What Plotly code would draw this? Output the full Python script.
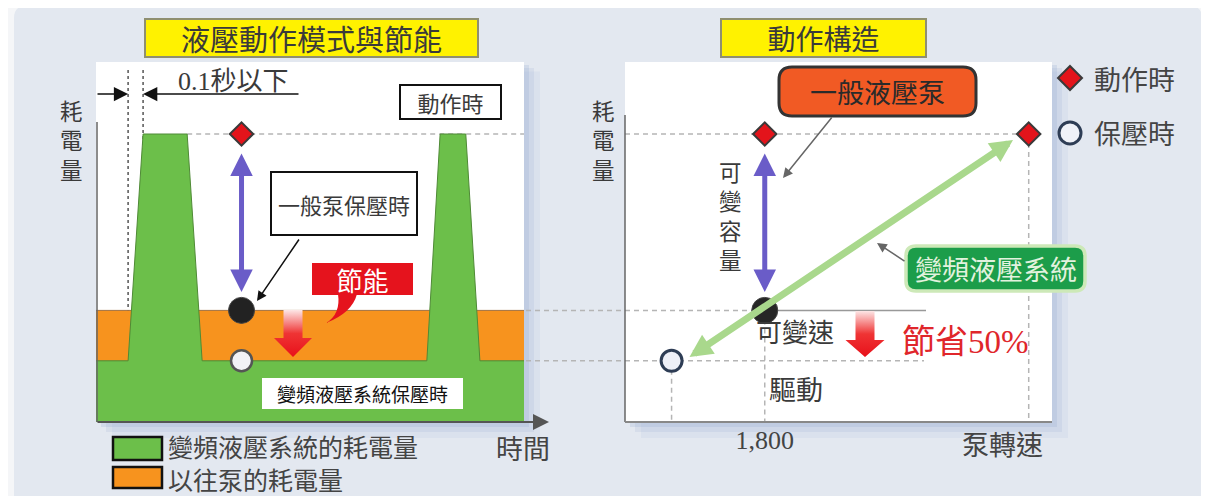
import plotly.graph_objects as go

# the page body has an 8px margin, so the figure is drawn 8px in from the window corner
OFF = 8
W, H = 1209 - OFF, 496 - OFF

# schematic values
time_pts = [0, 7.5, 11, 21.3, 24.8, 77.3, 80.4, 86.4, 89.7, 100]
inverter_power = [17, 17, 80, 80, 17, 17, 80, 80, 17, 17]
conv_time = [0, 100]
conv_power = [31, 31]

peak_power = 80      # 動作時
conv_hold = 31       # 一般泵保壓時
inv_hold = 17        # 變頻液壓系統保壓時
marker_time = 34

speed_action = [1800, 5200]
power_action = [80, 80]
speed_conv_hold = [1800]
speed_inv_hold = [600]
speed_ticks = [1800]
speed_ticktext = ["1,800"]

CJK = "Noto Sans CJK TC, Noto Sans CJK JP, sans-serif"
SERIF = "Liberation Serif"
GREEN = "#6cbf4a"
ORANGE = "#f7931e"
RED = "#e3141b"
PURPLE = "#6a5cc8"
LGREEN = "#a9d88c"
TXT = "#3a3a3a"


def X(px):
    return (px - OFF) / W


def Y(py):
    return 1 - (py - OFF) / H


# pixel -> data helpers for the decorations
def lt(px):
    return (px - 96) / 4.28


def lp(py):
    return (422 - py) / 3.6


def rs(px):
    return (px - 625) / 427 * 5500


fig = go.Figure()

# ---- left panel ----
fig.add_trace(go.Scatter(x=conv_time, y=conv_power, fill="tozeroy", fillcolor=ORANGE,
                         mode="lines", line=dict(color="#a07040", width=1),
                         xaxis="x", yaxis="y"))
fig.add_trace(go.Scatter(x=time_pts, y=inverter_power, fill="tozeroy", fillcolor=GREEN,
                         mode="lines", line=dict(color="#4f8a36", width=1),
                         xaxis="x", yaxis="y"))

grad = dict(type="vertical", colorscale=[[0, "#e8101a"], [0.5, "#ef3434"], [1, "#fde6e6"]])
cx, hs, hh = lt(293), 9.5 / 4.28, 19 / 4.28
fig.add_trace(go.Scatter(
    x=[cx - hs, cx + hs, cx + hs, cx + hh, cx, cx - hh, cx - hs, cx - hs],
    y=[lp(310), lp(310), lp(338), lp(338), lp(357), lp(338), lp(338), lp(310)],
    fill="toself", mode="lines", line=dict(width=0), fillgradient=grad,
    xaxis="x", yaxis="y"))

fig.add_trace(go.Scatter(x=[marker_time], y=[peak_power], mode="markers",
                         marker=dict(symbol="diamond", size=18, color=RED,
                                     line=dict(color="#3a3a3a", width=2)),
                         xaxis="x", yaxis="y"))
fig.add_trace(go.Scatter(x=[marker_time], y=[conv_hold], mode="markers",
                         marker=dict(size=26, color="#222222", line=dict(color="#444", width=1)),
                         xaxis="x", yaxis="y"))
fig.add_trace(go.Scatter(x=[marker_time], y=[inv_hold], mode="markers",
                         marker=dict(size=21, color="#f2f2f6", line=dict(color="#555", width=2.5)),
                         xaxis="x", yaxis="y"))

# ---- right panel ----
cx, hs, hh = rs(865), rs(625 + 9.5), rs(625 + 19.5)
fig.add_trace(go.Scatter(
    x=[cx - hs, cx + hs, cx + hs, cx + hh, cx, cx - hh, cx - hs, cx - hs],
    y=[lp(311), lp(311), lp(340), lp(340), lp(357), lp(340), lp(340), lp(311)],
    fill="toself", mode="lines", line=dict(width=0), fillgradient=grad,
    xaxis="x2", yaxis="y2"))
fig.add_trace(go.Scatter(x=speed_action, y=power_action, mode="markers",
                         marker=dict(symbol="diamond", size=18, color=RED,
                                     line=dict(color="#3a3a3a", width=2)),
                         xaxis="x2", yaxis="y2"))
fig.add_trace(go.Scatter(x=speed_conv_hold, y=[conv_hold], mode="markers",
                         marker=dict(size=26, color="#262626", line=dict(color="#444", width=1)),
                         xaxis="x2", yaxis="y2"))
fig.add_trace(go.Scatter(x=speed_inv_hold, y=[inv_hold], mode="markers",
                         marker=dict(size=21, color="#eef0f8", line=dict(color="#2e3d55", width=3)),
                         xaxis="x2", yaxis="y2"))


def rrect(x0, y0, x1, y1, r):
    return (f"M {X(x0 + r)},{Y(y0)} L {X(x1 - r)},{Y(y0)} Q {X(x1)},{Y(y0)} {X(x1)},{Y(y0 + r)} "
            f"L {X(x1)},{Y(y1 - r)} Q {X(x1)},{Y(y1)} {X(x1 - r)},{Y(y1)} "
            f"L {X(x0 + r)},{Y(y1)} Q {X(x0)},{Y(y1)} {X(x0)},{Y(y1 - r)} "
            f"L {X(x0)},{Y(y0 + r)} Q {X(x0)},{Y(y0)} {X(x0 + r)},{Y(y0)} Z")


shapes = []
# panel background
shapes.append(dict(type="path", path=rrect(14, 6, 1202, 510, 12), xref="paper", yref="paper",
                   fillcolor="#e3e8f0", line=dict(width=0), layer="below"))
# shadows and white plot areas
for (x0, y0, x1, y1) in [(96, 62, 524, 422), (625, 62, 1052, 422)]:
    for off, a in [(16, 0.08), (10, 0.12), (5, 0.16)]:
        shapes.append(dict(type="rect", xref="paper", yref="paper",
                           x0=X(x0 + off), x1=X(x1 + off), y0=Y(y0 + off * 0.6), y1=Y(y1 + off),
                           fillcolor=f"rgba(120,150,200,{a})", line=dict(width=0), layer="below"))
    shapes.append(dict(type="rect", xref="paper", yref="paper", x0=X(x0), x1=X(x1),
                       y0=Y(y1), y1=Y(y0), fillcolor="white", line=dict(width=0), layer="below"))

dash = dict(color="#b5b5b5", width=1.5, dash="5px,4px")
dot = dict(color="#555555", width=1.5, dash="3px,3px")
# left panel guide lines
for t in [time_pts[1], time_pts[2]]:
    shapes.append(dict(type="line", xref="x", yref="y", x0=t, x1=t, y0=lp(70), y1=0,
                       line=dot, layer="below"))
shapes.append(dict(type="line", xref="x", yref="y", x0=time_pts[3], x1=100,
                   y0=peak_power, y1=peak_power, line=dash, layer="below"))
# bridges between the panels
for lev in [conv_hold, inv_hold]:
    shapes.append(dict(type="line", xref="paper", yref="y", x0=X(526), x1=X(625),
                       y0=lev, y1=lev, line=dash))
# right panel guide lines
shapes.append(dict(type="line", xref="x2", yref="y2", x0=0, x1=speed_action[1],
                   y0=peak_power, y1=peak_power, line=dash, layer="below"))
shapes.append(dict(type="line", xref="x2", yref="y2", x0=speed_action[1], x1=speed_action[1],
                   y0=peak_power, y1=0, line=dash, layer="below"))
shapes.append(dict(type="line", xref="x2", yref="y2", x0=0, x1=speed_conv_hold[0],
                   y0=conv_hold, y1=conv_hold, line=dash, layer="below"))
shapes.append(dict(type="line", xref="x2", yref="y2", x0=speed_conv_hold[0], x1=rs(926),
                   y0=conv_hold, y1=conv_hold, line=dict(color="#999", width=1.5), layer="below"))
shapes.append(dict(type="line", xref="x2", yref="y2", x0=0, x1=rs(924),
                   y0=inv_hold, y1=inv_hold, line=dash, layer="below"))
shapes.append(dict(type="line", xref="x2", yref="y2", x0=speed_conv_hold[0], x1=speed_conv_hold[0],
                   y0=conv_hold, y1=0, line=dash, layer="below"))
shapes.append(dict(type="line", xref="x2", yref="y2", x0=speed_inv_hold[0], x1=speed_inv_hold[0],
                   y0=inv_hold, y1=0, line=dash, layer="below"))

# axis lines
shapes.append(dict(type="line", xref="paper", yref="paper", x0=X(97), x1=X(97), y0=Y(122), y1=Y(422),
                   line=dict(color="#666", width=1.5)))
shapes.append(dict(type="line", xref="paper", yref="paper", x0=X(625), x1=X(625), y0=Y(115), y1=Y(422),
                   line=dict(color="#666", width=1.5)))
shapes.append(dict(type="line", xref="paper", yref="paper", x0=X(625), x1=X(1052), y0=Y(422), y1=Y(422),
                   line=dict(color="#888", width=2)))

# 節能 bubble tail
tail = (f"M {lt(338)},{lp(294)} Q {lt(341)},{lp(314)} {lt(326)},{lp(323)} "
        f"Q {lt(352)},{lp(313)} {lt(357)},{lp(294)} Z")
shapes.append(dict(type="path", xref="x", yref="y", path=tail, fillcolor="#e5131d",
                   line=dict(width=0)))

# rounded boxes on the right
shapes.append(dict(type="path", xref="paper", yref="paper", path=rrect(779, 67, 976, 116, 13),
                   fillcolor="#f15a24", line=dict(color="#333", width=3)))
shapes.append(dict(type="path", xref="paper", yref="paper", path=rrect(906, 246, 1085, 291, 10),
                   fillcolor="#1c9d4a", line=dict(color="#cde9b8", width=3.5)))

# legend swatches
shapes.append(dict(type="rect", xref="paper", yref="paper", x0=X(113), x1=X(162), y0=Y(460), y1=Y(437),
                   fillcolor=GREEN, line=dict(color="#111", width=2.5)))
shapes.append(dict(type="rect", xref="paper", yref="paper", x0=X(113), x1=X(162), y0=Y(488), y1=Y(467),
                   fillcolor=ORANGE, line=dict(color="#111", width=2.5)))
shapes.append(dict(type="path", xref="paper", yref="paper",
                   path=f"M {X(1070)},{Y(66)} L {X(1082)},{Y(78)} L {X(1070)},{Y(90)} L {X(1058)},{Y(78)} Z",
                   fillcolor=RED, line=dict(color="#3a3a3a", width=2)))
shapes.append(dict(type="circle", xref="paper", yref="paper", x0=X(1059), x1=X(1081), y0=Y(144), y1=Y(122),
                   fillcolor="#f0f2f8", line=dict(color="#2e3d55", width=3)))


def txt(s, x, y, size, color=TXT, family=CJK, xanchor="center", **kw):
    fig.add_annotation(text=s, x=X(x), y=Y(y), xref="paper", yref="paper", showarrow=False,
                       font=dict(size=size, color=color, family=family),
                       xanchor=xanchor, yanchor="middle", **kw)


def box(s, x0, y0, x1, y1, size, bg, border=None, bw=0, color=TXT):
    txt(s, (x0 + x1) / 2, (y0 + y1) / 2, size, color=color, bgcolor=bg,
        bordercolor=border or bg, borderwidth=bw, borderpad=0,
        width=x1 - x0 - bw, height=y1 - y0 - bw)


box("液壓動作模式與節能", 145, 19, 478, 57, 29, "#fff200", "#8f8f70", 2)
box("動作構造", 721, 19, 926, 57, 28, "#fff200", "#8f8f70", 2)
box("動作時", 400, 85, 501, 119, 22, "white", "#111", 2)
box("一般泵保壓時", 271, 172, 417, 235, 22, "white", "#111", 2)
box("節能", 312, 263, 413, 295, 26, "#e5131d", color="white")
box("變頻液壓系統保壓時", 262, 378, 463, 409, 19, "white", color="#111")

txt(f"<span style='font-family:{SERIF}'>0.1</span>秒以下", 176, 78, 26, xanchor="left")
txt("<br>".join("耗電量"), 71, 140, 22.5)
txt("<br>".join("耗電量"), 603, 140, 22.5)
txt("<br>".join("可變容量"), 730, 215, 22.5)

txt("變頻液壓系統的耗電量", 166, 446, 25, color="#444", xanchor="left")
txt("以往泵的耗電量", 166, 479, 25, color="#444", xanchor="left")
txt("時間", 523, 447, 27, color="#444")

txt("一般液壓泵", 877.5, 91.5, 27, color="#2a2a2a")
txt("變頻液壓系統", 995.5, 268.5, 27, color="#e2f2de")
txt("動作時", 1092, 78, 27, color="#444", xanchor="left")
txt("保壓時", 1092, 133, 27, color="#444", xanchor="left")
txt("可變速", 795, 330, 26)
txt(f"節省<span style='font-family:{SERIF}'>50%</span>", 965, 339, 33, color="#e0262b")
txt("驅動", 796, 388, 27)
txt("泵轉速", 1003, 443, 27, color="#444")


def arrow(x, y, ax, ay, xr, yr, color, width, size, both=False):
    fig.add_annotation(x=x, y=y, ax=ax, ay=ay, xref=xr, yref=yr, axref=xr, ayref=yr,
                       text="", showarrow=True, arrowhead=2, arrowsize=size, arrowwidth=width,
                       arrowcolor=color, standoff=0, startstandoff=0,
                       arrowside="end+start" if both else "end", startarrowhead=2,
                       startarrowsize=size)


# 0.1 秒 markers
arrow(time_pts[1], lp(94), 0, lp(94), "x", "y", "#111", 1.5, 1.9)
arrow(time_pts[2], lp(94), lt(300), lp(94), "x", "y", "#111", 1.5, 1.9)
# purple double arrows
arrow(marker_time, lp(292), marker_time, lp(152), "x", "y", PURPLE, 5, 0.9, both=True)
arrow(speed_conv_hold[0], lp(292), speed_conv_hold[0], lp(152), "x2", "y2", PURPLE, 5, 0.9, both=True)
# green double arrow
arrow(rs(1013), lp(140), rs(688), lp(358), "x2", "y2", LGREEN, 7, 0.65, both=True)
# pointers
arrow(lt(257), lp(301), lt(300), lp(238), "x", "y", "#111", 1.5, 1.3)
arrow(rs(783), lp(178), rs(833), lp(116), "x2", "y2", "#666", 1.5, 1.3)
arrow(rs(877), lp(243), rs(906), lp(262), "x2", "y2", "#666", 1.5, 1.3)
# time axis with arrow
fig.add_annotation(x=X(549), y=Y(422), xref="paper", yref="paper", ax=-453, ay=0,
                   text="", showarrow=True, arrowhead=2, arrowsize=1.6, arrowwidth=2,
                   arrowcolor="#555", standoff=0)

ax_common = dict(showgrid=False, zeroline=False, showline=False, fixedrange=True)
fig.update_layout(
    width=W, height=H, margin=dict(l=0, r=0, t=0, b=0),
    paper_bgcolor="#f5f6f8", plot_bgcolor="rgba(0,0,0,0)",
    showlegend=False, shapes=shapes,
    xaxis=dict(domain=[X(96), X(524)], range=[0, 100], showticklabels=False, **ax_common),
    yaxis=dict(domain=[Y(422), Y(62)], range=[0, 100], showticklabels=False, **ax_common),
    xaxis2=dict(domain=[X(625), X(1052)], range=[0, 5500], anchor="y2",
                tickmode="array", tickvals=speed_ticks, ticktext=speed_ticktext, ticks="",
                tickfont=dict(family=SERIF, size=26, color="#444"), **ax_common),
    yaxis2=dict(domain=[Y(422), Y(62)], range=[0, 100], anchor="x2", showticklabels=False, **ax_common),
)

fig.write_html("out.html")
